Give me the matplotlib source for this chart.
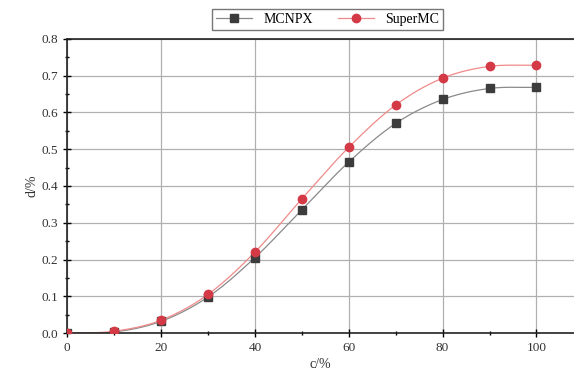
import matplotlib
matplotlib.use("Agg")
import matplotlib.pyplot as plt
import numpy as np

plt.rcParams['font.family'] = ['Liberation Serif', 'DejaVu Serif']

c_vals = [0, 10, 20, 30, 40, 50, 60, 70, 80, 90, 100]
mcnpx = [0.0, 0.003, 0.032, 0.098, 0.205, 0.335, 0.465, 0.570, 0.635, 0.665, 0.668]
supermc = [0.0, 0.005, 0.035, 0.105, 0.220, 0.365, 0.505, 0.620, 0.693, 0.725, 0.728]
x_ticks = [0, 20, 40, 60, 80, 100]
y_ticks = [0.0, 0.1, 0.2, 0.3, 0.4, 0.5, 0.6, 0.7, 0.8]


def smooth(x, y, n=20):
    # catmull-rom curve through the points, only for the connecting line
    x = np.asarray(x, float)
    y = np.asarray(y, float)
    px = np.concatenate([[2 * x[0] - x[1]], x, [2 * x[-1] - x[-2]]])
    py = np.concatenate([[2 * y[0] - y[1]], y, [2 * y[-1] - y[-2]]])
    xs, ys = [], []
    t = np.linspace(0, 1, n, endpoint=False)
    for i in range(1, len(px) - 2):
        for p, out in ((px, xs), (py, ys)):
            p0, p1, p2, p3 = p[i - 1], p[i], p[i + 1], p[i + 2]
            out.extend(0.5 * (2 * p1 + (-p0 + p2) * t + (2 * p0 - 5 * p1 + 4 * p2 - p3) * t ** 2
                              + (-p0 + 3 * p1 - 3 * p2 + p3) * t ** 3))
    xs.append(x[-1])
    ys.append(y[-1])
    return xs, ys


fig = plt.figure(figsize=(5.74, 3.73), dpi=100)
ax = fig.add_axes([0.117, 0.107, 0.883, 0.789])

ax.grid(True, color='#b0b0b0', linewidth=0.9)
ax.set_axisbelow(True)

sx, sy = smooth(c_vals, mcnpx)
ax.plot(sx, sy, color='#8a8a8a', linewidth=0.9, zorder=2)
sx, sy = smooth(c_vals, supermc)
ax.plot(sx, sy, color='#f08a8a', linewidth=0.9, zorder=2)

ax.plot(c_vals, mcnpx, linestyle='none', marker='s', markersize=5.5,
        color='#3c3c3c', zorder=3)
ax.plot(c_vals, supermc, linestyle='none', marker='o', markersize=6,
        color='#d43a45', zorder=3)

# legend handles
h1, = ax.plot([], [], color='#8a8a8a', linewidth=0.9, marker='s', markersize=5.5,
              markerfacecolor='#3c3c3c', markeredgecolor='#3c3c3c')
h2, = ax.plot([], [], color='#f08a8a', linewidth=0.9, marker='o', markersize=6,
              markerfacecolor='#d43a45', markeredgecolor='#d43a45')
fig.legend([h1, h2], ['MCNPX', 'SuperMC'], ncol=2, loc='upper center',
           bbox_to_anchor=(0.571, 0.995), frameon=True, fancybox=False,
           edgecolor='#555555', fontsize=10, handlelength=2.6,
           columnspacing=1.8, borderpad=0.3)

ax.set_xlim(0, 108)
ax.set_ylim(0, 0.8)
ax.set_xticks(x_ticks)
ax.set_yticks(y_ticks)
ax.set_yticklabels([f'{v:.1f}' for v in y_ticks])
ax.set_xticks(np.arange(10, 101, 20), minor=True)
ax.set_yticks(np.arange(0.05, 0.8, 0.1), minor=True)
ax.tick_params(which='major', direction='inout', length=6, width=1,
               labelsize=9.5, labelcolor='#333333', top=False, right=False)
ax.tick_params(which='minor', direction='inout', length=3.5, width=1)

for s in ['left', 'bottom', 'top']:
    ax.spines[s].set_linewidth(1.2)
    ax.spines[s].set_color('#222222')
ax.spines['right'].set_visible(False)

ax.set_xlabel('c/%', fontsize=10, color='#333333', labelpad=3)
ax.set_ylabel('d/%', fontsize=10, color='#333333', labelpad=2)

fig.savefig('out.png', dpi=100)
